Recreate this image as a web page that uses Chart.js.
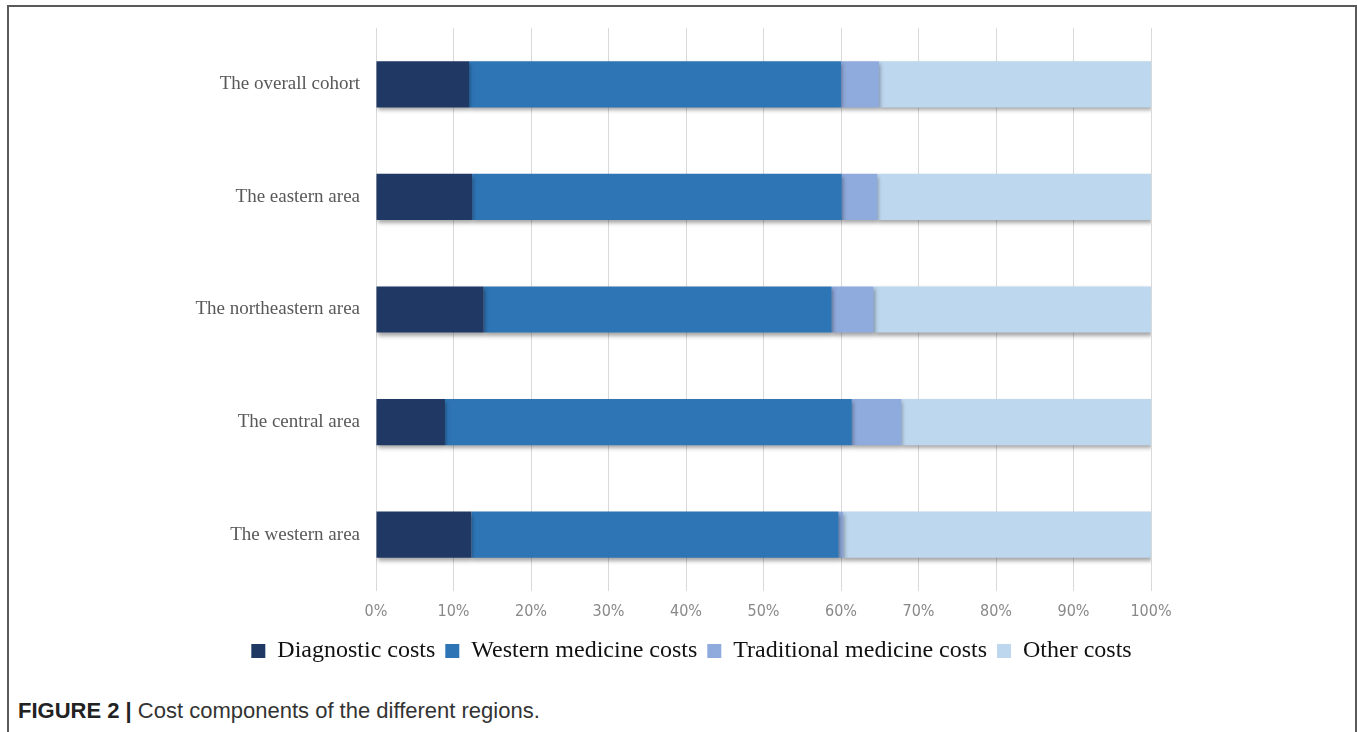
<!DOCTYPE html>
<html>
<head>
<meta charset="utf-8">
<script src="https://cdn.jsdelivr.net/npm/chart.js@4.4.1/dist/chart.umd.min.js"></script>
<style>
  html, body { margin: 0; padding: 0; background: #fff; }
  #page { position: relative; width: 1357px; height: 732px; overflow: hidden; }
  #frame {
    position: absolute; left: 7px; top: 5px; width: 1346px; height: 740px;
    border-left: 2px solid #5a5a5a; border-top: 2px solid #5a5a5a; border-right: 2px solid #5a5a5a;
  }
  #wrap { position: absolute; left: 0; top: 0; width: 1357px; height: 680px; }
  #caption {
    position: absolute; left: 18px; top: 698px;
    font-family: "Liberation Sans", Arial, sans-serif; font-size: 22px; color: #333;
    white-space: nowrap;
  }
  #caption b { color: #222; }
</style>
</head>
<body>
<div id="page">
  <div id="frame"></div>
  <div id="wrap"><canvas id="c" width="1357" height="680"></canvas></div>
  <div id="caption"><b>FIGURE 2 |</b> Cost components of the different regions.</div>
</div>
<script>
// Regions and cost shares (% of total cost)
const regions = ["The overall cohort", "The eastern area", "The northeastern area", "The central area", "The western area"];
const diagnosticCosts = [12.0, 12.4, 13.9, 8.9, 12.3];
const westernMedicineCosts = [48.0, 47.7, 44.9, 52.5, 47.4];
const traditionalMedicineCosts = [4.9, 4.6, 5.4, 6.4, 0.6];
const otherCosts = [35.1, 35.3, 35.8, 32.2, 39.7];
const seriesNames = ["Diagnostic costs", "Western medicine costs", "Traditional medicine costs", "Other costs"];
const xTicks = [0, 10, 20, 30, 40, 50, 60, 70, 80, 90, 100];

const colors = ["#203864", "#2E75B6", "#8FAADC", "#BDD7EE"];
const seriesValues = [diagnosticCosts, westernMedicineCosts, traditionalMedicineCosts, otherCosts];

// soft drop shadow under the bars
const barShadow = {
  id: "barShadow",
  beforeDatasetsDraw(chart) {
    const ctx = chart.ctx;
    ctx.save();
    ctx.shadowColor = "rgba(0,0,0,0.35)";
    ctx.shadowBlur = 4;
    ctx.shadowOffsetX = 1;
    ctx.shadowOffsetY = 3;
  },
  afterDatasetsDraw(chart) {
    chart.ctx.restore();
  }
};

new Chart(document.getElementById("c"), {
  type: "bar",
  data: {
    labels: regions,
    datasets: seriesNames.map((name, i) => ({
      label: name,
      data: seriesValues[i],
      backgroundColor: colors[i],
      borderWidth: 0,
      categoryPercentage: 0.41,
      barPercentage: 1.0
    }))
  },
  options: {
    indexAxis: "y",
    responsive: false,
    animation: false,
    devicePixelRatio: 1,
    layout: { padding: { left: 26, right: 0, top: 28, bottom: 7 } },
    scales: {
      x: {
        stacked: true,
        min: 0,
        max: 100,
        afterBuildTicks(scale) { scale.ticks = xTicks.map(v => ({ value: v })); },
        afterFit(scale) { scale.height = 38; },
        grid: { color: "#d9d9d9", lineWidth: 1, drawTicks: false },
        border: { display: false },
        ticks: {
          padding: 11,
          color: "#898989",
          font: { family: "'Liberation Sans Narrow', 'DejaVu Sans Condensed', 'Liberation Sans', sans-serif", size: 16 },
          callback: v => v + "%"
        }
      },
      y: {
        stacked: true,
        afterFit(scale) { scale.width = 350; },
        grid: { display: false, drawTicks: false },
        border: { display: false },
        ticks: {
          padding: 16,
          color: "#595959",
          font: { family: "'Liberation Serif', 'Times New Roman', serif", size: 19 }
        }
      },
      // empty right-hand margin axis keeps the plot narrower than the legend row
      margin: {
        type: "category",
        position: "right",
        afterFit(scale) { scale.width = 206; },
        grid: { display: false, drawTicks: false },
        border: { display: false },
        ticks: { display: false }
      }
    },
    plugins: {
      tooltip: { enabled: false },
      legend: {
        position: "bottom",
        labels: {
          boxWidth: 14,
          boxHeight: 14,
          padding: 10,
          color: "#111",
          font: { family: "'Liberation Serif', 'Times New Roman', serif", size: 24 }
        }
      }
    }
  },
  plugins: [barShadow]
});
</script>
</body>
</html>
